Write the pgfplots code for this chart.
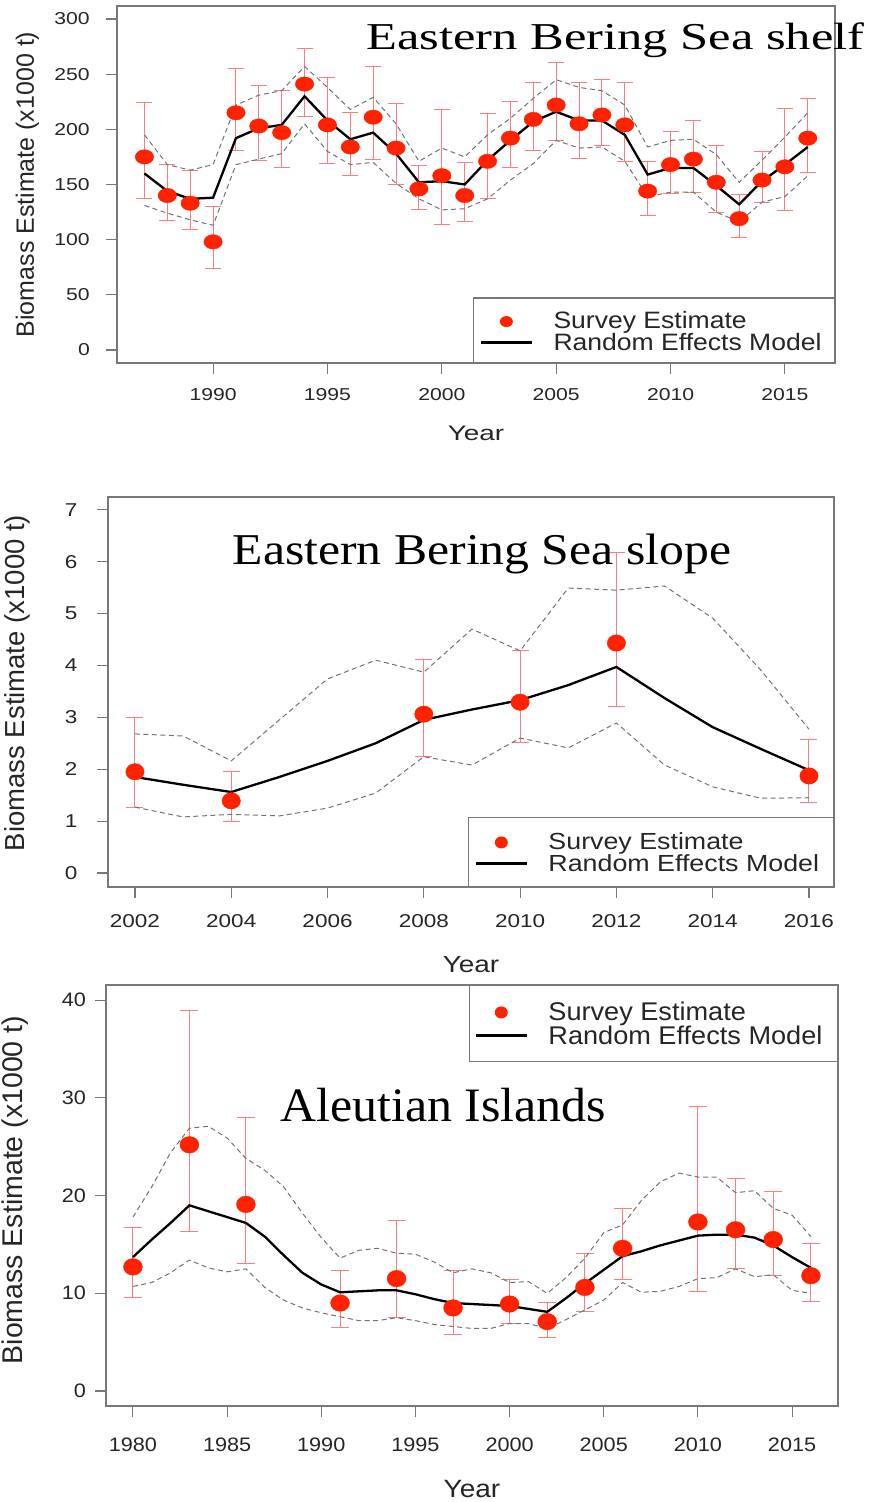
\documentclass[border=0pt]{standalone}
\usepackage{pgfplots}
\usepackage{pgfplotstable}
\pgfplotsset{compat=1.18}
\usepackage{fontspec}
\setmainfont{Liberation Serif}
\setsansfont{Liberation Sans}
\usepackage{graphicx}
\definecolor{ptred}{RGB}{255,34,0}
\definecolor{errred}{RGB}{255,125,125}
\definecolor{dashgray}{RGB}{115,115,115}
\definecolor{axgray}{RGB}{120,120,120}
\newcommand{\fs}[1]{\fontsize{#1}{#1}\selectfont}

% ---------- data ----------
\pgfplotstableread{
yr v lo hi
1987 175 137 224
1988 140 117 168
1989 133 109 163
1990 98 74 130
1991 215 181 255
1992 203 172 240
1993 197 165 235
1994 241 212 273
1995 204 169 247
1996 184 158 215
1997 211 173 257
1998 183 150 223
1999 146 127 167
2000 158 114 218
2001 140 116 170
2002 171 137 214
2003 192 165 225
2004 209 181 242
2005 222 190 261
2006 205 174 242
2007 213 185 245
2008 204 171 242
2009 144 122 171
2010 168 142 198
2011 173 143 208
2012 152 125 185
2013 119 102 141
2014 154 134 180
2015 166 126 219
2016 192 161 228
}\shelfsurv
\pgfplotstableread{
yr m lo hi
1987 160 131 195
1988 144 124 168
1989 137 118 163
1990 138 113 168
1991 192 168 222
1992 201 173 231
1993 204 178 235
1994 230 205 257
1995 208 180 238
1996 191 168 218
1997 197 170 229
1998 178 151 205
1999 152 137 171
2000 153 127 183
2001 150 128 175
2002 172 137 195
2003 190 154 210
2004 207 169 228
2005 216 190 245
2006 208 183 238
2007 208 184 235
2008 195 171 222
2009 159 139 184
2010 165 143 190
2011 165 143 191
2012 149 125 177
2013 132 116 152
2014 153 134 172
2015 168 139 193
2016 184 158 215
}\shelfmod
\pgfplotstableread{
yr v lo hi
2002 1.95 1.27 2.99
2004 1.39 1.00 1.95
2008 3.06 2.25 4.12
2010 3.29 2.52 4.28
2012 4.43 3.20 6.17
2016 1.87 1.35 2.58
}\slopesurv
\pgfplotstableread{
yr m lo hi
2002 1.85 1.27 2.68
2003 1.70 1.08 2.64
2004 1.56 1.13 2.16
2005 1.85 1.10 2.95
2006 2.16 1.25 3.74
2007 2.50 1.54 4.10
2008 2.95 2.24 3.87
2009 3.15 2.08 4.70
2010 3.33 2.60 4.28
2011 3.62 2.41 5.49
2012 3.97 2.89 5.45
2013 3.37 2.08 5.53
2014 2.81 1.66 4.91
2015 2.39 1.44 3.91
2016 1.98 1.45 2.77
}\slopemod
\pgfplotstableread{
yr v lo hi
1980 12.7 9.6 16.7
1983 25.2 16.3 38.9
1986 19.1 13.0 28.0
1991 9.0 6.5 12.3
1994 11.5 7.5 17.5
1997 8.5 5.8 12.3
2000 8.9 6.9 11.4
2002 7.1 5.5 9.1
2004 10.6 8.1 14.1
2006 14.6 11.4 18.7
2010 17.3 10.2 29.1
2012 16.5 12.5 21.8
2014 15.5 11.8 20.4
2016 11.8 9.2 15.1
}\aisurv
\pgfplotstableread{
yr m lo hi
1980 13.7 10.7 17.8
1981 15.5 11.1 20.9
1982 17.2 12.1 24.4
1983 19.0 13.4 26.9
1984 18.4 12.6 27.1
1985 17.8 12.2 25.9
1986 17.2 12.5 23.8
1987 15.8 10.6 22.6
1988 13.9 9.3 20.9
1989 12.1 8.5 18.2
1990 10.9 8.0 15.7
1991 10.1 7.6 13.6
1992 10.2 7.2 14.4
1993 10.3 7.2 14.6
1994 10.3 7.5 14.1
1995 9.9 7.2 14.0
1996 9.4 6.8 13.2
1997 9.0 6.6 12.1
1998 8.9 6.4 12.5
1999 8.8 6.4 12.1
2000 8.7 6.9 11.1
2001 8.4 6.9 11.2
2002 8.1 6.4 10.0
2003 9.5 7.3 11.6
2004 11.0 8.3 13.6
2005 12.4 9.3 16.2
2006 13.8 11.1 17.0
2007 14.3 10.1 19.5
2008 14.9 10.2 21.4
2009 15.4 10.7 22.3
2010 15.9 11.5 21.9
2011 16.0 11.6 21.9
2012 16.0 12.5 20.3
2013 15.7 11.7 20.5
2014 14.9 11.9 18.7
2015 13.7 10.3 18.0
2016 12.6 10.0 15.8
}\aimod

\pgfplotsset{
  rstyle/.style={scale only axis, clip=false,
    axis line style={axgray, line width=1.1pt},
    tick align=outside, major tick length=11pt,
    every tick/.style={axgray, line width=1.1pt},
    xtick pos=left, ytick pos=left,
    /pgf/number format/assume math mode=true,
    /pgf/number format/1000 sep={},
    tick label style={text=black!85},
    legend cell align=left},
  errplot/.style={forget plot, draw=none, mark=none,
    error bars/.cd, y dir=both, y explicit, error mark=|,
    error bar style={draw=errred, line width=1pt, solid},
    error mark options={draw=errred, line width=1pt, mark size=#1, solid}},
  ptplot/.style={only marks, mark=*, color=ptred, draw=none, mark size=#1,
    mark options={draw=none, fill=ptred, solid}},
  dashline/.style={forget plot, dashgray, line width=1pt, dash pattern=on 5pt off 3.5pt},
  modline/.style={black, line width=2.3pt,
    legend image code/.code={\draw[black, line width=2.3pt] (0pt,#1) -- (51pt,#1);}},
}

\begin{document}
\begin{tikzpicture}
\useasboundingbox (0pt,0pt) rectangle (870pt,1502pt);

% ================= TOP: shelf =================
\begin{axis}[rstyle, at={(117pt,1496pt)}, anchor=north west, width=718pt, height=357pt,
  xmin=1985.8, xmax=2017.19, ymin=-11.8, ymax=311.8,
  xtick={1990,1995,...,2015}, ytick={0,50,...,300},
  xticklabel style={font=\sffamily\fs{17.2}, xscale=1.23, anchor=base, inner sep=0pt, yshift=-27pt},
  yticklabel style={font=\sffamily\fs{17.2}, xscale=1.23, anchor=east, inner sep=0pt, xshift=-13pt},
  xlabel={Year}, xlabel style={at={(axis description cs:0.5,-0.2185)}, anchor=base, font=\sffamily\fs{21}, xscale=1.33, text=black!85},
  ylabel={Biomass Estimate (x1000 t)}, ylabel style={at={(axis description cs:-0.1247,0.5)}, anchor=center, font=\sffamily\fs{25}, text=black!85},
  legend style={at={(axis description cs:0.5056,0.1445)}, anchor=north west, draw=none, fill=none,
    inner sep=0pt, row sep=0pt, column sep=20pt, font=\sffamily\fs{23.7}, text=black!85,
    nodes={inner sep=0pt, text height=17pt, text depth=5pt}},
]
\draw[axgray, line width=1.1pt] (rel axis cs:0.496,0) rectangle (rel axis cs:1,0.182);
\addplot[errplot=8pt] table[x=yr, y=v, y error plus expr=\thisrow{hi}-\thisrow{v}, y error minus expr=\thisrow{v}-\thisrow{lo}] {\shelfsurv};
\addplot[ptplot=7.2pt, mark options={xscale=1.28},
  legend image code/.code={\fill[ptred] (25pt,1pt) ellipse [x radius=6.5pt, y radius=5.5pt];}]
  table[x=yr, y=v] {\shelfsurv};
\addlegendentry{\scalebox{1.12}[1]{Survey Estimate}}
\addplot[dashline] table[x=yr, y=lo] {\shelfmod};
\addplot[dashline] table[x=yr, y=hi] {\shelfmod};
\addplot[modline=2pt] table[x=yr, y=m] {\shelfmod};
\addlegendentry{\scalebox{1.12}[1]{Random Effects Model}}
\node[font=\rmfamily\fs{38}, xscale=1.33, anchor=base, inner sep=0pt] at (rel axis cs:0.694,0.877) {Eastern Bering Sea shelf};
\end{axis}

% ================= MIDDLE: slope =================
\begin{axis}[rstyle, at={(108pt,1005pt)}, anchor=north west, width=726pt, height=390pt,
  xmin=2001.44, xmax=2016.52, ymin=-0.27, ymax=7.245,
  xtick={2002,2004,...,2016}, ytick={0,1,...,7},
  xticklabel style={font=\sffamily\fs{18.6}, xscale=1.21, anchor=base, inner sep=0pt, yshift=-30pt},
  yticklabel style={font=\sffamily\fs{18.6}, xscale=1.21, anchor=east, inner sep=0pt, xshift=-16pt},
  xlabel={Year}, xlabel style={at={(axis description cs:0.5,-0.218)}, anchor=base, font=\sffamily\fs{23.3}, xscale=1.2, text=black!85},
  ylabel={Biomass Estimate (x1000 t)}, ylabel style={at={(axis description cs:-0.1253,0.523)}, anchor=center, font=\sffamily\fs{27.5}, text=black!85},
  legend style={at={(axis description cs:0.5055,0.1403)}, anchor=north west, draw=none, fill=none,
    inner sep=0pt, row sep=0pt, column sep=20pt, font=\sffamily\fs{23.3}, text=black!85,
    nodes={inner sep=0pt, text height=17pt, text depth=5pt}},
]
\draw[axgray, line width=1.1pt] (rel axis cs:0.497,0) rectangle (rel axis cs:1,0.179);
\addplot[errplot=8.5pt] table[x=yr, y=v, y error plus expr=\thisrow{hi}-\thisrow{v}, y error minus expr=\thisrow{v}-\thisrow{lo}] {\slopesurv};
\addplot[ptplot=8.2pt, mark options={xscale=1.12},
  legend image code/.code={\fill[ptred] (25pt,1pt) ellipse [x radius=6.5pt, y radius=6pt];}]
  table[x=yr, y=v] {\slopesurv};
\addlegendentry{\scalebox{1.15}[1]{Survey Estimate}}
\addplot[dashline] table[x=yr, y=lo] {\slopemod};
\addplot[dashline] table[x=yr, y=hi] {\slopemod};
\addplot[modline=2pt] table[x=yr, y=m] {\slopemod};
\addlegendentry{\scalebox{1.15}[1]{Random Effects Model}}
\node[font=\rmfamily\fs{44}, xscale=1.13, anchor=base, inner sep=0pt] at (rel axis cs:0.515,0.828) {Eastern Bering Sea slope};
\end{axis}

% ================= BOTTOM: Aleutian =================
\begin{axis}[rstyle, at={(106pt,517pt)}, anchor=north west, width=732pt, height=421pt,
  xmin=1978.57, xmax=2017.44, ymin=-1.54, ymax=41.56,
  xtick={1980,1985,...,2015}, ytick={0,10,...,40},
  xticklabel style={font=\sffamily\fs{19.5}, xscale=1.11, anchor=base, inner sep=0pt, yshift=-34pt},
  yticklabel style={font=\sffamily\fs{19.5}, xscale=1.11, anchor=east, inner sep=0pt, xshift=-8pt},
  xlabel={Year}, xlabel style={at={(axis description cs:0.5,-0.2185)}, anchor=base, font=\sffamily\fs{25}, xscale=1.12, text=black!85},
  ylabel={Biomass Estimate (x1000 t)}, ylabel style={at={(axis description cs:-0.1243,0.513)}, anchor=center, font=\sffamily\fs{28.5}, text=black!85},
  legend style={at={(axis description cs:0.504,0.959)}, anchor=north west, draw=none, fill=none,
    inner sep=0pt, row sep=0pt, column sep=20pt, font=\sffamily\fs{25.6}, text=black!85,
    nodes={inner sep=0pt, text height=18pt, text depth=6pt}},
]
\draw[axgray, line width=1.1pt] (rel axis cs:0.496,0.819) rectangle (rel axis cs:1,1);
\addplot[errplot=9pt] table[x=yr, y=v, y error plus expr=\thisrow{hi}-\thisrow{v}, y error minus expr=\thisrow{v}-\thisrow{lo}] {\aisurv};
\addplot[ptplot=8.3pt, mark options={xscale=1.14},
  legend image code/.code={\fill[ptred] (25pt,2pt) ellipse [x radius=6.5pt, y radius=6pt];}]
  table[x=yr, y=v] {\aisurv};
\addlegendentry{\scalebox{1.06}[1]{Survey Estimate}}
\addplot[dashline] table[x=yr, y=lo] {\aimod};
\addplot[dashline] table[x=yr, y=hi] {\aimod};
\addplot[modline=3pt] table[x=yr, y=m] {\aimod};
\addlegendentry{\scalebox{1.06}[1]{Random Effects Model}}
\node[font=\rmfamily\fs{48}, xscale=1.04, anchor=base, inner sep=0pt] at (rel axis cs:0.461,0.675) {Aleutian Islands};
\end{axis}
\end{tikzpicture}
\end{document}
